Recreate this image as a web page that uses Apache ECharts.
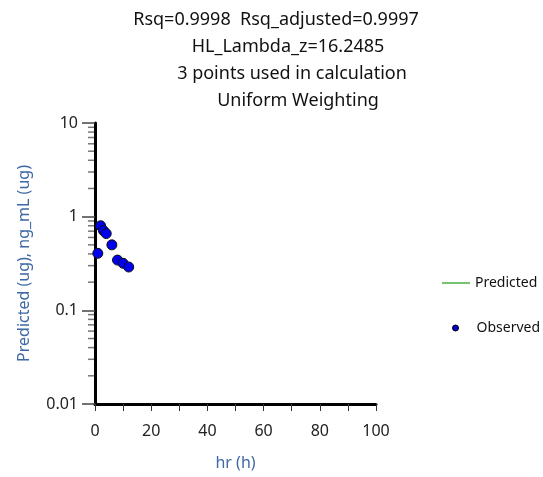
<!DOCTYPE html>
<html>
<head>
<meta charset="utf-8">
<script src="https://cdn.jsdelivr.net/npm/echarts@6/dist/echarts.min.js"></script>
<style>
  html, body { margin: 0; padding: 0; background: #fff; }
  #chart { width: 543px; height: 477px; }
</style>
</head>
<body>
<div id="chart"></div>
<script>
// Observed concentrations over time
const timeHr = [1, 2, 3, 4, 6, 8, 10, 12];
const observed = [0.406, 0.80, 0.71, 0.66, 0.50, 0.344, 0.318, 0.29];
// Predicted terminal-phase curve (not drawn for this profile)
const predicted = [];

const titleLines = [
  'Rsq=0.9998  Rsq_adjusted=0.9997',
  'HL_Lambda_z=16.2485',
  '3 points used in calculation',
  'Uniform Weighting'
];
const xTicks = [0, 20, 40, 60, 80, 100];
const yDecades = [0.01, 0.1, 1, 10];
// Minor log ticks: 2..9 within each decade
const yMinor = [];
for (let d = 0; d < yDecades.length - 1; d++) {
  for (let m = 2; m <= 9; m++) yMinor.push(+(yDecades[d] * m).toPrecision(3));
}

const FONT = 'Noto Sans';
const NAME_COLOR = '#3f68a4';
const titleCenters = [271, 283, 287, 293];
const titleTops = [6, 33, 60, 87];

const chart = echarts.init(document.getElementById('chart'), null, { renderer: 'canvas' });
chart.setOption({
  animation: false,
  backgroundColor: '#fff',
  title: titleLines.map((t, i) => ({
    text: t,
    left: titleCenters[i],
    top: titleTops[i],
    textAlign: 'center',
    textStyle: { fontFamily: FONT, fontSize: 18, fontWeight: 'normal', color: '#111' }
  })),
  grid: { left: 95, top: 123, width: 281, height: 281, containLabel: false },
  legend: [
    {
      orient: 'vertical',
      left: 442,
      top: 276,
      padding: 0,
      itemWidth: 28,
      itemHeight: 14,
      itemGap: 0,
      textStyle: { fontFamily: FONT, fontSize: 14, color: '#111' },
      data: [
        { name: 'Predicted', icon: 'path://M0,6 L30,6 L30,8 L0,8 Z', itemStyle: { color: '#6abf69' } }
      ]
    },
    {
      orient: 'vertical',
      left: 452,
      top: 321,
      padding: 0,
      itemWidth: 6,
      itemHeight: 6,
      itemGap: 0,
      textStyle: { fontFamily: FONT, fontSize: 14, color: '#111', padding: [0, 0, 0, 13] },
      data: [
        { name: 'Observed', icon: 'circle', itemStyle: { color: '#0000cc', borderColor: '#000', borderWidth: 1 } }
      ]
    }
  ],
  xAxis: {
    type: 'value',
    min: 0,
    max: 100,
    interval: 10,
    name: 'hr (h)',
    nameLocation: 'middle',
    nameGap: 51,
    nameTextStyle: { fontFamily: FONT, fontSize: 16, color: NAME_COLOR },
    axisLine: { show: true, onZero: false, lineStyle: { color: '#000', width: 3 } },
    axisTick: { show: true, length: 7, lineStyle: { color: '#333', width: 1 } },
    axisLabel: {
      margin: 19,
      fontFamily: FONT, fontSize: 16, color: '#222',
      formatter: v => (xTicks.indexOf(v) >= 0 ? String(v) : '')
    },
    splitLine: { show: false }
  },
  yAxis: {
    type: 'log',
    logBase: 10,
    min: 0.01,
    max: 10,
    name: 'Predicted (ug), ng_mL (ug)',
    nameLocation: 'middle',
    nameGap: 63,
    nameTextStyle: { fontFamily: FONT, fontSize: 16, color: NAME_COLOR },
    axisLine: { show: true, lineStyle: { color: '#000', width: 3 } },
    axisTick: { show: true, length: 13, lineStyle: { color: '#444', width: 1.5 } },
    minorTick: { show: false },
    axisLabel: {
      margin: 17,
      fontFamily: FONT, fontSize: 16, color: '#222',
      formatter: v => String(+v.toPrecision(3))
    },
    splitLine: { show: false }
  },
  series: [
    {
      name: 'Predicted',
      type: 'line',
      data: predicted,
      showSymbol: false,
      lineStyle: { color: '#6abf69', width: 2 },
      itemStyle: { color: '#6abf69' }
    },
    {
      name: 'Observed',
      type: 'scatter',
      data: timeHr.map((t, i) => [t, observed[i]]),
      symbol: 'circle',
      symbolSize: 10,
      itemStyle: { color: '#0000ee', borderColor: '#111', borderWidth: 1, opacity: 1 },
      emphasis: { disabled: true },
      z: 5
    },
    {
      name: 'minorTicks',
      type: 'custom',
      silent: true,
      clip: false,
      data: yMinor.map(v => [0, v]),
      renderItem: (params, api) => {
        const p = api.coord([0, api.value(1)]);
        return {
          type: 'line',
          shape: { x1: p[0] - 7, y1: p[1], x2: p[0] - 1, y2: p[1] },
          style: { stroke: '#777', lineWidth: 1.5 }
        };
      },
      z: 1
    }
  ]
});
</script>
</body>
</html>
